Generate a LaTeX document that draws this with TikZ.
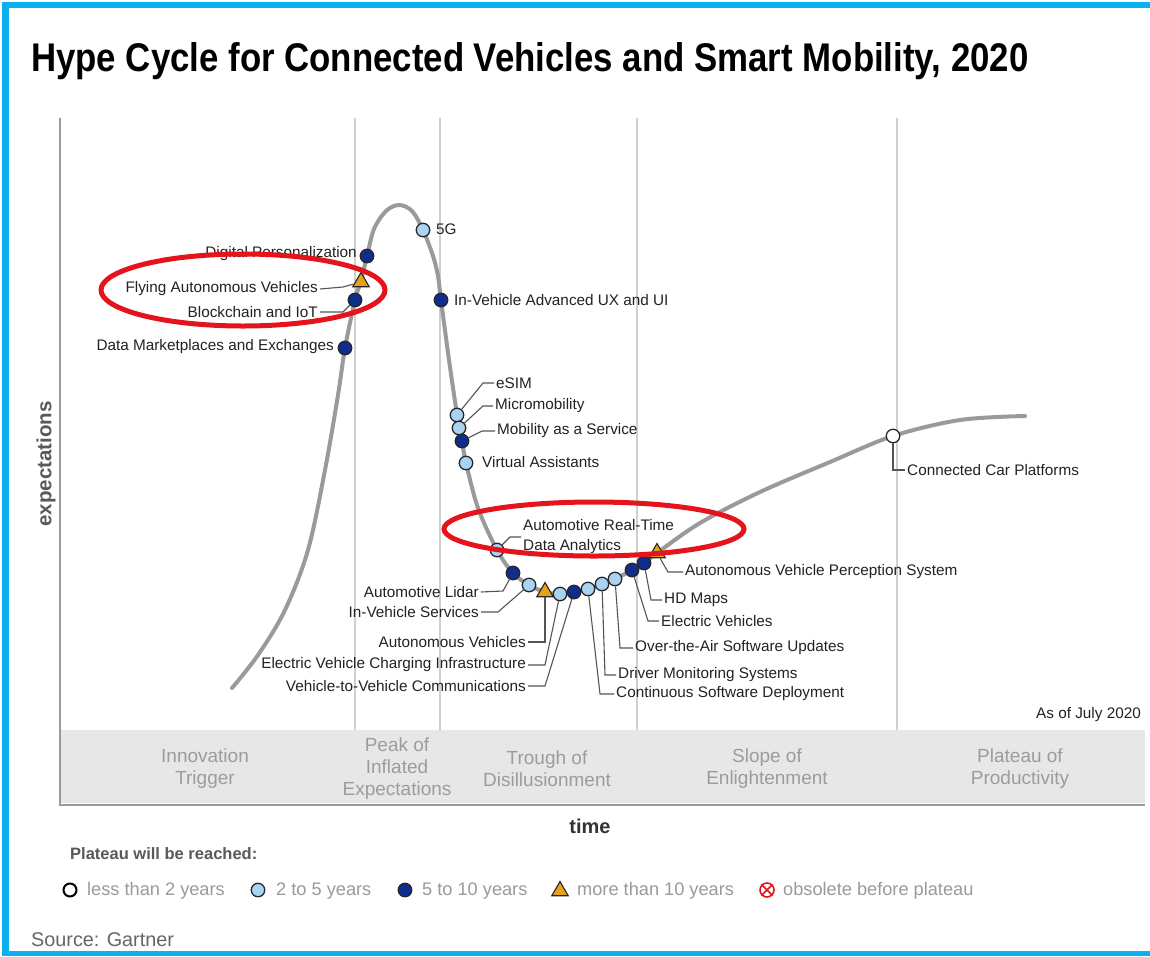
\documentclass[tikz,border=0pt]{standalone}
\usepackage{fontspec}
\setmainfont{Liberation Sans}
\usetikzlibrary{shapes.geometric}
\definecolor{dkblue}{HTML}{0F2D8C}
\definecolor{ltblue}{HTML}{A9D3F2}
\definecolor{trifill}{HTML}{E8A21A}
\definecolor{framec}{HTML}{0AB1EE}
\definecolor{hype}{HTML}{9A9A9A}
\definecolor{sepc}{HTML}{D0D0D0}
\definecolor{bandc}{HTML}{E7E7E7}
\definecolor{phasec}{HTML}{9C9C9C}
\definecolor{lblc}{HTML}{222222}
\definecolor{ldrc}{HTML}{555555}
\definecolor{ringc}{HTML}{E5141C}
\definecolor{legc}{HTML}{9A9A9A}
\begin{document}
\begin{tikzpicture}[x=1pt,y=-1pt,
  dotbase/.style={circle,draw=black!85,line width=1.3pt,minimum size=13.5pt,inner sep=0pt},
  dotL/.style={dotbase,fill=white},
  dotM/.style={dotbase,fill=ltblue},
  dotD/.style={dotbase,fill=dkblue},
  tribox/.style={regular polygon,regular polygon sides=3,draw=black!85,line width=1.1pt,fill=trifill,minimum size=19pt,inner sep=0pt},
  lab/.style={font=\fontsize{15.3}{20}\selectfont,text=lblc,inner sep=2pt},
  leader/.style={draw=ldrc,line width=1.1pt},
  phaselab/.style={font=\fontsize{19}{22}\selectfont,text=phasec,align=center},
  legtext/.style={font=\fontsize{18.2}{20}\selectfont,text=legc,anchor=west,inner sep=0pt},
  ring/.style={draw=ringc,line width=5pt},
  sepline/.style={draw=sepc,line width=1.2pt},
  axisline/.style={draw=hype,line width=1.6pt}
]
\useasboundingbox (0,0) rectangle (1150,956);
\fill[white] (0,0) rectangle (1150,956);
% frame
\fill[framec] (2,2) rectangle (1150,8);
\fill[framec] (2,2) rectangle (9,956);
\fill[framec] (2,951) rectangle (1150,956);

% title
\node[anchor=base west,inner sep=0pt,font=\fontsize{34.8}{40}\bfseries] (title) at (31,71) {\scalebox{1}[1.15]{Hype Cycle for Connected Vehicles and Smart Mobility, 2020}};

% band & separators
\fill[bandc] (60,730) rectangle (1145,803);
\foreach \sx in {355,440,637,897} {\draw[sepline] (\sx,118) -- (\sx,730);}
\draw[axisline] (60,118) -- (60,805) -- (1145,805);

% phase labels
\node[phaselab] (ph1) at (205,769) {Innovation\\Trigger};
\node[phaselab] (ph2) at (397,769) {Peak of\\Inflated\\Expectations};
\node[phaselab] (ph3) at (547,769) {Trough of\\Disillusionment};
\node[phaselab] (ph4) at (767,769) {Slope of\\Enlightenment};
\node[phaselab] (ph5) at (1020,769) {Plateau of\\Productivity};

\node[font=\fontsize{20}{24}\bfseries,text=black!80] (timelab) at (590,826) {time};
\node[font=\fontsize{20.5}{24}\bfseries,text=black!65,rotate=90] (explab) at (46,464) {expectations};
\node[lab,anchor=base east] (asof) at (1143,718) {As of July 2020};

% hype curve
\draw[hype,line width=4pt,line cap=round] plot[smooth,tension=0.55] coordinates {
(232,688) (258,655) (285,610) (308,550) (325,470) (338,395) (345,348) (355,300) (361,281) (367,256) (374,229) (386,211) (399,205) (412,211) (423,230) (433,256) (438,276) (441,300) (449,360) (457,415) (459,428) (462,441) (466,463) (478,508) (497,550) (513,573) (529,585) (545,592) (560,594) (574,592) (588,589) (602,584) (615,579) (632,570) (644,563) (657,553) (700,523) (760,492) (830,462) (893,436) (960,420) (1025,416)};

% markers
\node[dotD] (dmed) at (345,348) {};
\node[dotD] (bcd) at (355,300) {};
\node[tribox] (favt) at (361,282) {};
\node[dotD] (dpd) at (367,256) {};
\node[dotM] (g5d) at (423,230) {};
\node[dotD] (ivuxd) at (441,300) {};
\node[dotM] (esimd) at (457,415) {};
\node[dotM] (microd) at (459,428) {};
\node[dotD] (maasd) at (462,441) {};
\node[dotM] (vad) at (466,463) {};
\node[dotM] (artd) at (497,550) {};
\node[dotD] (lidard) at (513,573) {};
\node[dotM] (ivsd) at (529,585) {};
\node[tribox] (avt) at (545,592) {};
\node[dotM] (evcid) at (560,594) {};
\node[dotD] (v2vd) at (574,592) {};
\node[dotM] (csdd) at (588,589) {};
\node[dotM] (dmsd) at (602,584) {};
\node[dotM] (otad) at (615,579) {};
\node[dotD] (evd) at (632,570) {};
\node[dotD] (hdd) at (644,563) {};
\node[tribox] (avpst) at (657,553) {};
\node[dotL] (ccpd) at (893,436) {};

% labels
\node[lab,anchor=east] (dpl) at (359,254) {Digital Personalization};
\node[lab,anchor=east] (favl) at (320,289) {Flying Autonomous Vehicles};
\node[lab,anchor=east] (bcl) at (320,312) {Blockchain and IoT};
\node[lab,anchor=east] (dmel) at (336,347) {Data Marketplaces and Exchanges};
\node[lab,anchor=west] (g5l) at (434,229) {5G};
\node[lab,anchor=west] (ivuxl) at (452,300) {In-Vehicle Advanced UX and UI};
\node[lab,anchor=west] (esiml) at (494,383) {eSIM};
\node[lab,anchor=west] (microl) at (493,406) {Micromobility};
\node[lab,anchor=west] (maasl) at (495,431) {Mobility as a Service};
\node[lab,anchor=west] (val) at (480,462) {Virtual Assistants};
\node[lab,anchor=west,align=left] (artl) at (521,537) {Automotive Real-Time\\Data Analytics};
\node[lab,anchor=east] (lidarl) at (481,592) {Automotive Lidar};
\node[lab,anchor=east] (ivsl) at (481,612) {In-Vehicle Services};
\node[lab,anchor=east] (avl) at (528,642) {Autonomous Vehicles};
\node[lab,anchor=east] (evcil) at (528,665) {Electric Vehicle Charging Infrastructure};
\node[lab,anchor=east] (v2vl) at (528,686) {Vehicle-to-Vehicle Communications};
\node[lab,anchor=west] (csdl) at (614,694) {Continuous Software Deployment};
\node[lab,anchor=west] (dmsl) at (616,675) {Driver Monitoring Systems};
\node[lab,anchor=west] (otal) at (633,648) {Over-the-Air Software Updates};
\node[lab,anchor=west] (evl) at (659,621) {Electric Vehicles};
\node[lab,anchor=west] (hdl) at (662,600) {HD Maps};
\node[lab,anchor=west] (avpsl) at (683,572) {Autonomous Vehicle Perception System};
\node[lab,anchor=west] (ccpl) at (905,470) {Connected Car Platforms};

% leaders
\draw[leader] (favl.east) -- (343,287) -- (favt);
\draw[leader] (bcl.east) -- (343,312) -- (bcd);
\draw[leader] (esiml.west) -- (483,383) -- (esimd);
\draw[leader] (microl.west) -- (483,406) -- (microd);
\draw[leader] (maasl.west) -- (482,431) -- (maasd);
\draw[leader] (artl.west) -- (510,537) -- (artd);
\draw[leader] (lidarl.east) -- (503,591) -- (lidard);
\draw[leader] (ivsl.east) -- (498,612) -- (ivsd);
\draw[leader] (avl.east) -- (545,642) -- (avt);
\draw[leader] (evcil.east) -- (545,665) -- (evcid);
\draw[leader] (v2vl.east) -- (545,686) -- (v2vd);
\draw[leader] (csdl.west) -- (600,694) -- (csdd);
\draw[leader] (dmsl.west) -- (605,675) -- (dmsd);
\draw[leader] (otal.west) -- (620,648) -- (otad);
\draw[leader] (evl.west) -- (648,621) -- (evd);
\draw[leader] (hdl.west) -- (651,600) -- (hdd);
\draw[leader] (avpsl.west) -- (668,572) -- (avpst);
\draw[leader] (ccpl.west) -- (893,470) -- (ccpd);

% red ellipses
\draw[ring] (243,290) ellipse [x radius=142pt, y radius=36pt];
\draw[ring] (594,529) ellipse [x radius=150pt, y radius=27pt];

% legend
\node[anchor=base west,inner sep=0pt,font=\fontsize{16.5}{20}\bfseries,text=black!65] (legtitle) at (70,859) {Plateau will be reached:};
\node[dotbase,fill=white,draw=black,line width=2pt,minimum size=13pt] (lg1) at (70,890) {};
\node[legtext] (lt1) at (87,891) {less than 2 years};
\node[dotM] (lg2) at (258,890) {};
\node[legtext] (lt2) at (276,891) {2 to 5 years};
\node[dotD] (lg3) at (405,890) {};
\node[legtext] (lt3) at (422,891) {5 to 10 years};
\node[tribox] (lg4) at (560,891) {};
\node[legtext] (lt4) at (577,891) {more than 10 years};
\node[circle,draw=ringc,fill=white,line width=1.6pt,minimum size=14pt,inner sep=0pt] (lg5) at (767,890) {};
\draw[ringc,line width=1.6pt] (lg5.45) -- (lg5.225) (lg5.135) -- (lg5.315);
\node[legtext] (lt5) at (783,891) {obsolete before plateau};

\node[anchor=west,inner sep=0pt,font=\fontsize{19.8}{22}\selectfont,text=black!60] (src) at (31,940) {Source: Gartner};
\end{tikzpicture}
\end{document}
